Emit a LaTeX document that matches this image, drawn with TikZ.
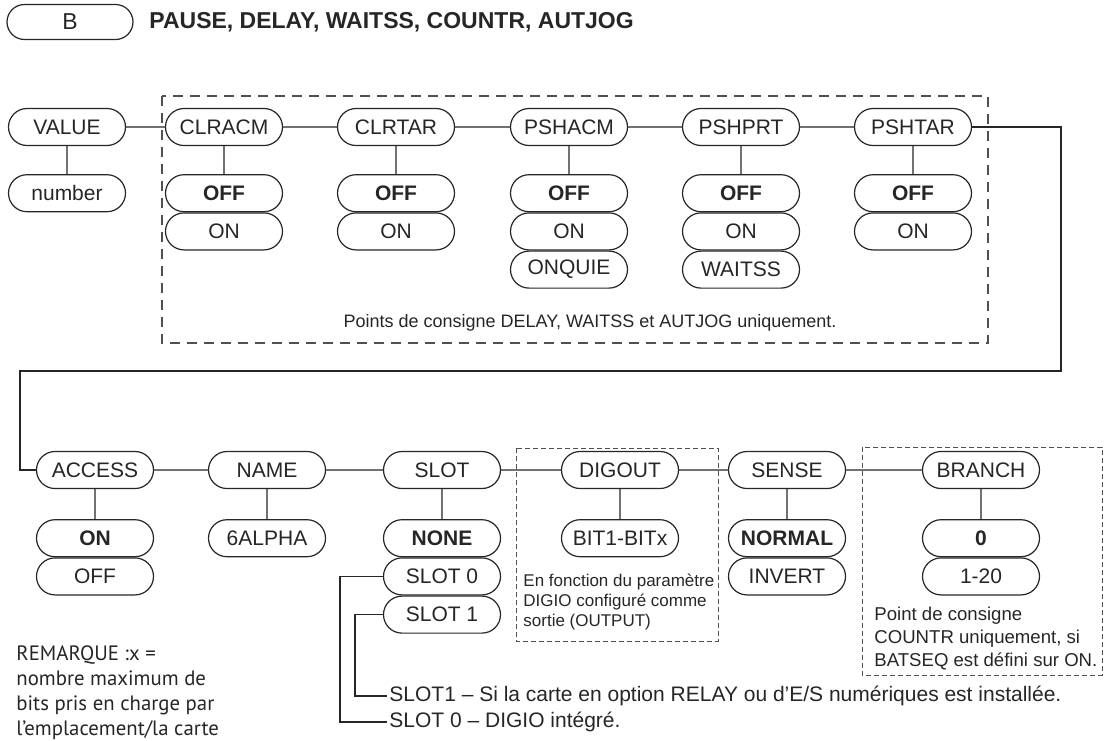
\documentclass[tikz,border=0pt]{standalone}
\usepackage{fontspec}
\setmainfont{Liberation Sans}
\newfontfamily\notefont{PT Sans}
\usepackage{xcolor}
\usetikzlibrary{shapes.misc,positioning}
\definecolor{inkgray}{HTML}{262626}
\definecolor{dashgray}{HTML}{505050}

\begin{document}
\begin{tikzpicture}[
    x=0.5pt, y=-0.5pt,
    font=\fontsize{10.5}{12}\selectfont,
    pill/.style={rounded rectangle, draw=inkgray, fill=white, line width=0.6pt, text=inkgray, minimum width=58.5pt, minimum height=18.5pt, inner sep=0pt},
    link/.style={draw=inkgray, line width=0.6pt},
    bigdash/.style={draw=dashgray, line width=0.55pt, dash pattern=on 5pt off 3.5pt},
    smalldash/.style={draw=dashgray, line width=0.5pt, dash pattern=on 2.4pt off 1.6pt},
    note/.style={text=inkgray, align=left, inner sep=0pt}
]
    \useasboundingbox (0,0) rectangle (1106,740);

    % header
    \node [pill, minimum width=63pt, minimum height=17.5pt, font=\fontsize{11.5}{13}\selectfont] (menuB) at (70,22) {B};
    \node [anchor=west, inner sep=0pt, text=inkgray, font=\fontsize{11.5}{13}\selectfont\bfseries] (title) at (149,22) {PAUSE, DELAY, WAITSS, COUNTR, AUTJOG};

    % dashed frames
    \draw [bigdash] (162,96) rectangle (988,343);
    \draw [smalldash] (516,448) rectangle (718,641);
    \draw [smalldash] (862,447) rectangle (1102,675);

    % top row
    \node [pill] (value) at (67,127) {VALUE};
    \node [pill] (clracm) at (224,127) {CLRACM};
    \node [pill] (clrtar) at (396,127) {CLRTAR};
    \node [pill] (pshacm) at (569,127) {PSHACM};
    \node [pill] (pshprt) at (741,127) {PSHPRT};
    \node [pill] (pshtar) at (913,127) {PSHTAR};

    \node [pill, below=14pt of value] (number) {number};
    \node [pill, below=14pt of clracm] (clracm-off) {\textbf{OFF}};
    \node [pill, below=0pt of clracm-off] (clracm-on) {ON};
    \node [pill, below=14pt of clrtar] (clrtar-off) {\textbf{OFF}};
    \node [pill, below=0pt of clrtar-off] (clrtar-on) {ON};
    \node [pill, below=14pt of pshacm] (pshacm-off) {\textbf{OFF}};
    \node [pill, below=0pt of pshacm-off] (pshacm-on) {ON};
    \node [pill, below=0pt of pshacm-on] (pshacm-onquie) {ONQUIE};
    \node [pill, below=14pt of pshprt] (pshprt-off) {\textbf{OFF}};
    \node [pill, below=0pt of pshprt-off] (pshprt-on) {ON};
    \node [pill, below=0pt of pshprt-on] (pshprt-waitss) {WAITSS};
    \node [pill, below=14pt of pshtar] (pshtar-off) {\textbf{OFF}};
    \node [pill, below=0pt of pshtar-off] (pshtar-on) {ON};

    \node [note, font=\fontsize{9}{11}\selectfont] (dlynote) at (590,323) {Points de consigne DELAY, WAITSS et AUTJOG uniquement.};

    % bottom row
    \node [pill] (access) at (95,470) {ACCESS};
    \node [pill] (name) at (267,470) {NAME};
    \node [pill] (slot) at (442,470) {SLOT};
    \node [pill] (digout) at (620,470) {DIGOUT};
    \node [pill] (sense) at (787,470) {SENSE};
    \node [pill] (branch) at (981,470) {BRANCH};

    \node [pill, below=15pt of access] (access-on) {\textbf{ON}};
    \node [pill, below=0pt of access-on] (access-off) {OFF};
    \node [pill, below=15pt of name] (alpha) {6ALPHA};
    \node [pill, below=15pt of slot] (slot-none) {\textbf{NONE}};
    \node [pill, below=0pt of slot-none] (slot0) {SLOT 0};
    \node [pill, below=0pt of slot0] (slot1) {SLOT 1};
    \node [pill, below=15pt of digout] (bits) {BIT1-BITx};
    \node [pill, below=15pt of sense] (sense-normal) {\textbf{NORMAL}};
    \node [pill, below=0pt of sense-normal] (sense-invert) {INVERT};
    \node [pill, below=15pt of branch] (branch-zero) {\textbf{0}};
    \node [pill, below=0pt of branch-zero] (branch-range) {1-20};

    \node [note, anchor=north west, font=\fontsize{8.5}{10}\selectfont] (outnote) at (523,574) {En fonction du paramètre\\DIGIO configuré comme\\sortie (OUTPUT)};
    \node [note, anchor=north west, font=\fontsize{9.3}{11.5}\selectfont] (batnote) at (874,607) {Point de consigne\\COUNTR uniquement, si\\BATSEQ est défini sur ON.};
    \node [note, anchor=north west, font=\notefont\fontsize{10.4}{12.5}\selectfont] (remark) at (16,645) {REMARQUE :x =\\nombre maximum de\\bits pris en charge par\\l’emplacement/la carte};
    \node [text=inkgray, anchor=west, inner sep=1pt] (slot1note) at (387,696) {SLOT1 – Si la carte en option RELAY ou d’E/S numériques est installée.};
    \node [text=inkgray, anchor=west, inner sep=1pt] (slot0note) at (387,722) {SLOT 0 – DIGIO intégré.};

    % connectors
    \coordinate (turnR) at (1061,371);
    \coordinate (turnL) at (20,371);
    \foreach \a/\b in {value/clracm, clracm/clrtar, clrtar/pshacm, pshacm/pshprt, pshprt/pshtar,
                       access/name, name/slot, slot/digout, digout/sense, sense/branch}
        \draw [link] (\a) -- (\b);
    \foreach \a/\b in {value/number, clracm/clracm-off, clrtar/clrtar-off, pshacm/pshacm-off, pshprt/pshprt-off, pshtar/pshtar-off,
                       access/access-on, name/alpha, slot/slot-none, digout/bits, sense/sense-normal, branch/branch-zero}
        \draw [link] (\a) -- (\b);
    \draw [link] (pshtar.east) -| (turnR) -- (turnL) |- (access.west);
    \draw [link] (slot0.west) -- ++(-43,0) |- (slot0note.west);
    \draw [link] (slot1.west) -- ++(-28,0) |- (slot1note.west);
\end{tikzpicture}
\end{document}
